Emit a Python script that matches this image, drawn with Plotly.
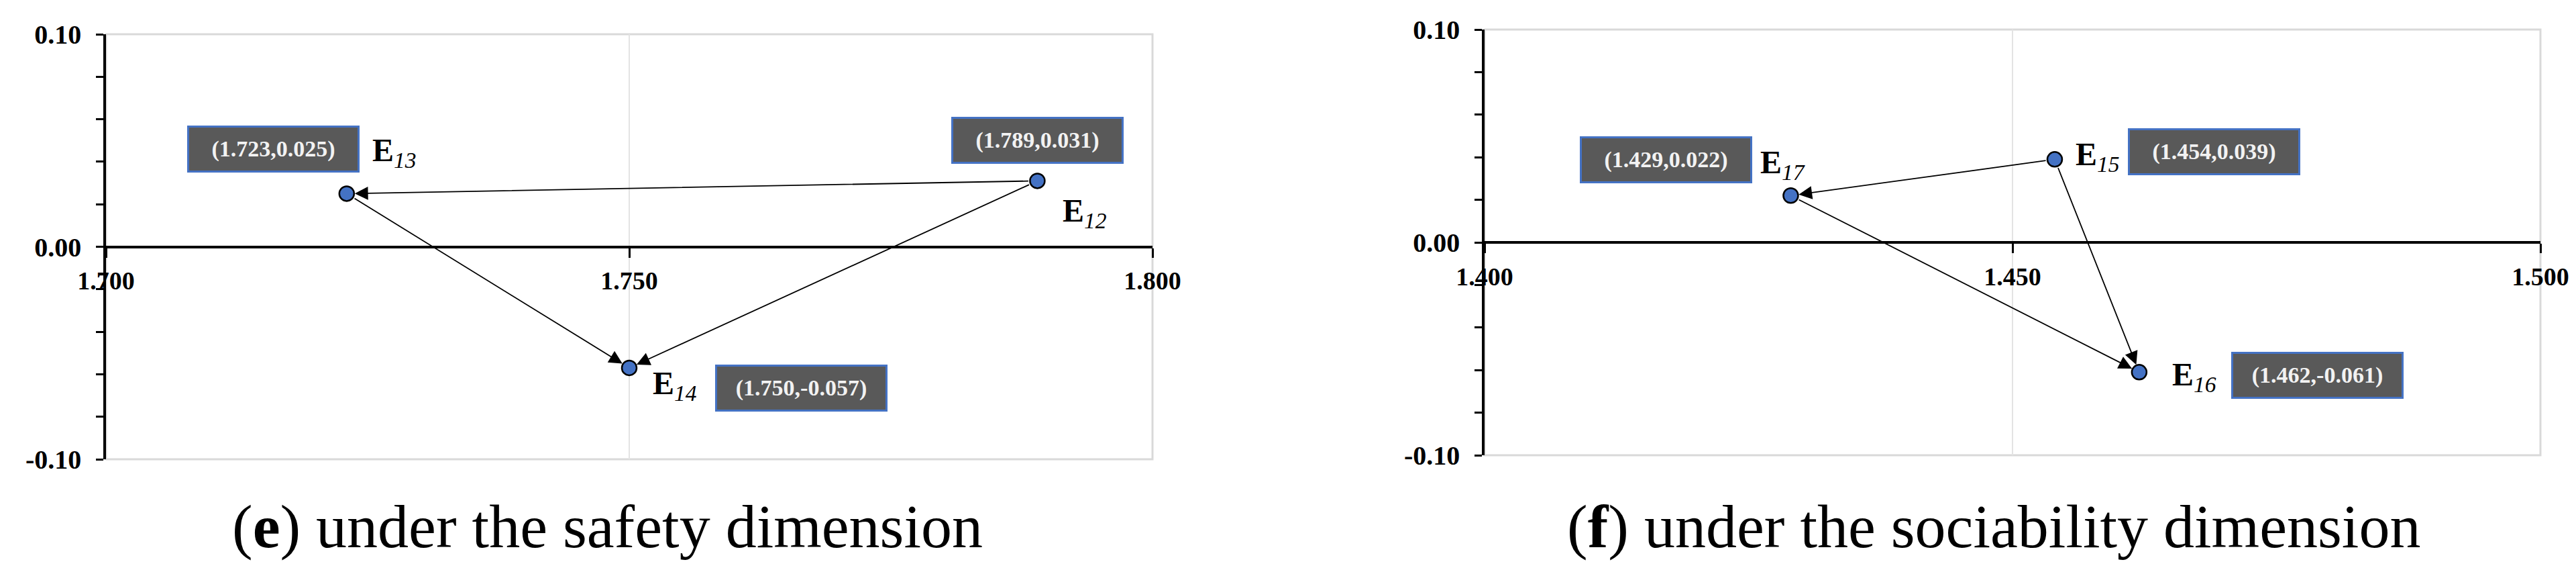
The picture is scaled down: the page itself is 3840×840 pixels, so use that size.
import plotly.graph_objects as go

# ---------------- data ----------------
left_labels = ["E12", "E13", "E14"]
left_x = [1.789, 1.723, 1.750]
left_y = [0.031, 0.025, -0.057]
left_links = [("E12", "E13"), ("E13", "E14"), ("E12", "E14")]

right_labels = ["E15", "E16", "E17"]
right_x = [1.454, 1.462, 1.429]
right_y = [0.039, -0.061, 0.022]
right_links = [("E15", "E17"), ("E17", "E16"), ("E15", "E16")]

left_xticks = [1.700, 1.750, 1.800]
right_xticks = [1.400, 1.450, 1.500]
y_ticks = [-0.10, 0.00, 0.10]

caption_letters = ["e", "f"]
caption_texts = ["under the safety dimension", "under the sociability dimension"]

# ---------------- styles / layout (pixels) ----------------
W, H = 3840, 840
SERIF = "Liberation Serif, Times New Roman, serif"
BLUE = "#4472C4"

# screen offsets (dx right, dy down) of value boxes and name labels from each point
box_off = {"E13": (-109, -66), "E12": (0, -60), "E14": (256, 30),
           "E17": (-186, -53), "E15": (238, -11), "E16": (266, 5)}
name_off = {"E13": (71, -61), "E12": (71, 48), "E14": (68, 26),
            "E17": (-12, -46), "E15": (64, -4), "E16": (82, 7)}

panels = [
    dict(labels=left_labels, xs=left_x, ys=left_y, links=left_links, xticks=left_xticks,
         xdom=[150 / W, 1710 / W], ydom=[1 - 676 / H, 1 - 43 / H], xa="x", ya="y",
         cap_x=897 / W),
    dict(labels=right_labels, xs=right_x, ys=right_y, links=right_links, xticks=right_xticks,
         xdom=[2205 / W, 3779 / W], ydom=[1 - 670 / H, 1 - 36 / H], xa="x2", ya="y2",
         cap_x=2964 / W),
]

fig = go.Figure()
annotations = []
shapes = []

for i, p in enumerate(panels):
    # light grey frame of the plot area (top / right / bottom)
    shapes.append(dict(type="rect", xref=p["xa"] + " domain", yref=p["ya"] + " domain",
                       x0=0, x1=1, y0=0, y1=1, line=dict(color="#d9d9d9", width=3),
                       layer="below"))

    fig.add_trace(go.Scatter(
        x=p["xs"], y=p["ys"], mode="markers", xaxis=p["xa"], yaxis=p["ya"],
        marker=dict(size=22, color=BLUE, line=dict(color="black", width=2.5)),
        hoverinfo="skip", showlegend=False, cliponaxis=False))

    pos = dict(zip(p["labels"], zip(p["xs"], p["ys"])))
    # arrows
    for a, b in p["links"]:
        (x0, y0), (x1, y1) = pos[a], pos[b]
        annotations.append(dict(
            x=x1, y=y1, ax=x0, ay=y0, xref=p["xa"], yref=p["ya"],
            axref=p["xa"], ayref=p["ya"], text="", showarrow=True,
            arrowhead=2, arrowsize=2.2, arrowwidth=1.8, arrowcolor="black",
            standoff=12, startstandoff=12))
    # value boxes and names
    for name, x, y in zip(p["labels"], p["xs"], p["ys"]):
        dx, dy = box_off[name]
        annotations.append(dict(
            x=x, y=y, xref=p["xa"], yref=p["ya"], showarrow=False,
            text="<b>(%.3f,%.3f)</b>" % (x, y),
            font=dict(family=SERIF, size=34, color="#f2f2f2"),
            bgcolor="#595959", bordercolor=BLUE, borderwidth=3, borderpad=2,
            width=247, height=60, xanchor="center", yanchor="middle",
            xshift=dx, yshift=-dy))
        nx, ny = name_off[name]
        annotations.append(dict(
            x=x, y=y, xref=p["xa"], yref=p["ya"], showarrow=False,
            text="<b>%s</b><sub><i>%s</i></sub>" % (name[0], name[1:]),
            font=dict(family=SERIF, size=48, color="black"),
            xanchor="center", yanchor="middle", xshift=nx, yshift=-ny))
    # caption
    annotations.append(dict(
        x=p["cap_x"], y=1 - 776 / H, xref="paper", yref="paper", showarrow=False,
        text="(<b>%s</b>) %s" % (caption_letters[i], caption_texts[i]),
        font=dict(family=SERIF, size=92, color="black"),
        xanchor="center", yanchor="middle"))

    xkey = "xaxis" if i == 0 else "xaxis2"
    ykey = "yaxis" if i == 0 else "yaxis2"
    ymid = (p["ydom"][0] + p["ydom"][1]) / 2
    fig.update_layout(**{
        xkey: dict(domain=p["xdom"], range=[p["xticks"][0], p["xticks"][-1]],
                   anchor="free", position=ymid, automargin=False,
                   tickvals=p["xticks"], ticktext=["%.3f" % v for v in p["xticks"]],
                   showline=True, linecolor="black", linewidth=4,
                   ticks="outside", ticklen=14, tickwidth=3, tickcolor="black",
                   ticklabelstandoff=2,
                   tickfont=dict(family=SERIF, size=38, color="black", weight="bold"),
                   showgrid=True, gridcolor="#e3e3e3", gridwidth=2,
                   zeroline=False, fixedrange=True),
        ykey: dict(domain=p["ydom"], range=[y_ticks[0], y_ticks[-1]],
                   anchor=p["xa"], automargin=False,
                   tickvals=y_ticks, ticktext=["%.2f" % v for v in y_ticks],
                   showline=True, linecolor="black", linewidth=3.5,
                   ticks="outside", ticklen=11, tickwidth=3, tickcolor="black",
                   ticklabelstandoff=14,
                   minor=dict(dtick=0.02, tick0=0, ticks="outside", ticklen=11,
                              tickwidth=3, tickcolor="black", showgrid=False),
                   tickfont=dict(family=SERIF, size=40, color="black", weight="bold"),
                   showgrid=True, gridcolor="#d9d9d9", gridwidth=3,
                   zeroline=False, fixedrange=True),
    })

fig.update_layout(
    width=W, height=H, margin=dict(l=0, r=0, t=0, b=0, autoexpand=False),
    paper_bgcolor="white", plot_bgcolor="white",
    annotations=annotations, shapes=shapes, showlegend=False)

fig.write_html("out.html")
